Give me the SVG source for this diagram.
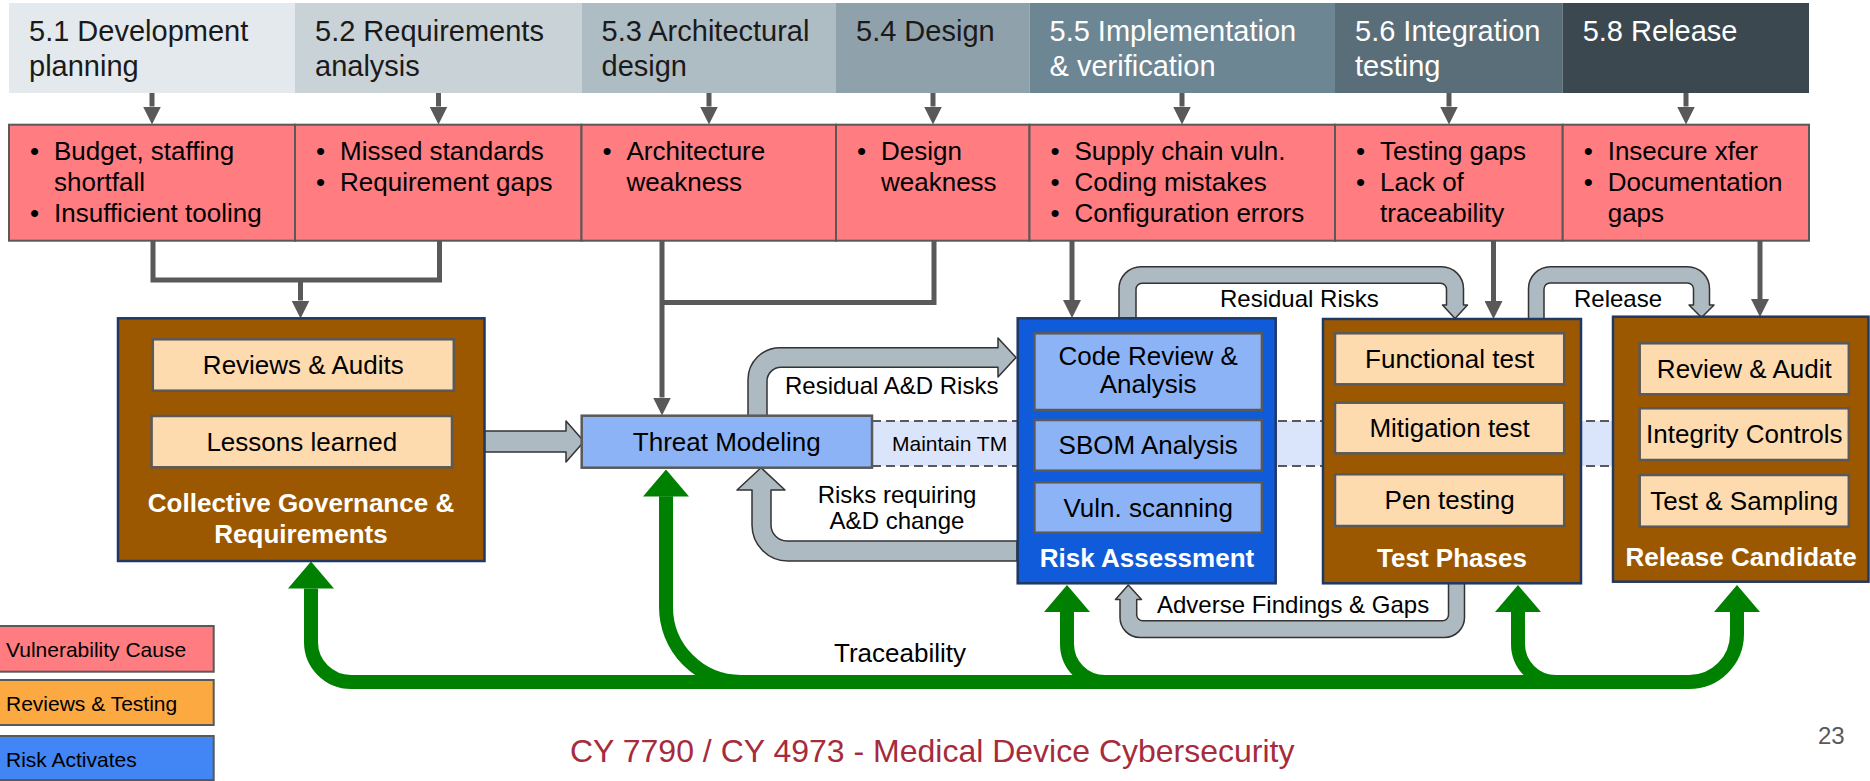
<svg xmlns="http://www.w3.org/2000/svg" width="1870" height="781" viewBox="0 0 1870 781">
  <defs>
    <style>
      text { font-family: "Liberation Sans", Arial, Helvetica, sans-serif; }
      .hd { font-size: 29px; fill: #1a1a1a; }
      .hw { font-size: 29px; fill: #ffffff; }
      .cause { fill: #ff7c80; stroke: #595959; stroke-width: 2; }
      .ct { font-size: 26px; fill: #000; }
      .conn { fill: none; stroke: #595959; stroke-width: 5; }
      .brown { fill: #9c5800; stroke: #1f3864; stroke-width: 2.5; }
      .blue { fill: #105bd9; stroke: #1f3864; stroke-width: 2.5; }
      .peach { fill: #fedbae; stroke: #595959; stroke-width: 2.5; }
      .lblue { fill: #8db3f7; stroke: #595959; stroke-width: 2.5; }
      .in { font-size: 26px; fill: #000; text-anchor: middle; }
      .title { font-size: 26px; font-weight: bold; fill: #fff; text-anchor: middle; }
      .block { fill: #adbac1; stroke: #333; stroke-width: 1.5; stroke-linejoin: round; }
      .lbl { font-size: 24px; fill: #000; }
      .green { fill: none; stroke: #008000; stroke-width: 14; }
      .legend { stroke: #595959; stroke-width: 2; }
      .lt { font-size: 21px; fill: #000; }
    </style>
    <marker id="ah" markerUnits="userSpaceOnUse" markerWidth="18" markerHeight="18" refX="0" refY="9" orient="auto" viewBox="0 0 18 18">
      <path d="M0,0 L18,9 L0,18 z" fill="#595959"/>
    </marker>
    <marker id="gh" markerUnits="userSpaceOnUse" markerWidth="27" markerHeight="46" refX="0" refY="23" orient="auto" viewBox="0 0 27 46">
      <path d="M0,0 L27,23 L0,46 z" fill="#008000"/>
    </marker>
  </defs>

  <rect width="1870" height="781" fill="#ffffff"/>

  <!-- lifecycle phase header -->
  <g id="phases">
    <rect x="9" y="3" width="286" height="90" fill="#e3e9ec"/>
    <rect x="295" y="3" width="286.5" height="90" fill="#c9d2d7"/>
    <rect x="581.5" y="3" width="254.5" height="90" fill="#aebcc3"/>
    <rect x="836" y="3" width="193.5" height="90" fill="#8fa1ab"/>
    <rect x="1029.5" y="3" width="305.5" height="90" fill="#6d8693"/>
    <rect x="1335" y="3" width="227.7" height="90" fill="#596e79"/>
    <rect x="1562.7" y="3" width="246.3" height="90" fill="#3b4850"/>
    <text class="hd" x="29" y="40.5">5.1 Development</text>
    <text class="hd" x="29" y="75.5">planning</text>
    <text class="hd" x="315" y="40.5">5.2 Requirements</text>
    <text class="hd" x="315" y="75.5">analysis</text>
    <text class="hd" x="601.5" y="40.5">5.3 Architectural</text>
    <text class="hd" x="601.5" y="75.5">design</text>
    <text class="hd" x="856" y="40.5">5.4 Design</text>
    <text class="hw" x="1049.5" y="40.5">5.5 Implementation</text>
    <text class="hw" x="1049.5" y="75.5">&amp; verification</text>
    <text class="hw" x="1355" y="40.5">5.6 Integration</text>
    <text class="hw" x="1355" y="75.5">testing</text>
    <text class="hw" x="1582.7" y="40.5">5.8 Release</text>
  </g>

  <!-- vulnerability causes per phase -->
  <g id="causes">
    <rect class="cause" x="9" y="124.7" width="286" height="116"/>
    <rect class="cause" x="295" y="124.7" width="286.5" height="116"/>
    <rect class="cause" x="581.5" y="124.7" width="254.5" height="116"/>
    <rect class="cause" x="836" y="124.7" width="193.5" height="116"/>
    <rect class="cause" x="1029.5" y="124.7" width="305.5" height="116"/>
    <rect class="cause" x="1335" y="124.7" width="227.7" height="116"/>
    <rect class="cause" x="1562.7" y="124.7" width="246.3" height="116"/>
    <g class="ct">
      <text x="30" y="159.5">•</text><text x="54" y="159.5">Budget, staffing</text>
      <text x="54" y="190.5">shortfall</text>
      <text x="30" y="221.5">•</text><text x="54" y="221.5">Insufficient tooling</text>

      <text x="316" y="159.5">•</text><text x="340" y="159.5">Missed standards</text>
      <text x="316" y="190.5">•</text><text x="340" y="190.5">Requirement gaps</text>

      <text x="602.5" y="159.5">•</text><text x="626.5" y="159.5">Architecture</text>
      <text x="626.5" y="190.5">weakness</text>

      <text x="857" y="159.5">•</text><text x="881" y="159.5">Design</text>
      <text x="881" y="190.5">weakness</text>

      <text x="1050.5" y="159.5">•</text><text x="1074.5" y="159.5">Supply chain vuln.</text>
      <text x="1050.5" y="190.5">•</text><text x="1074.5" y="190.5">Coding mistakes</text>
      <text x="1050.5" y="221.5">•</text><text x="1074.5" y="221.5">Configuration errors</text>

      <text x="1356" y="159.5">•</text><text x="1380" y="159.5">Testing gaps</text>
      <text x="1356" y="190.5">•</text><text x="1380" y="190.5">Lack of</text>
      <text x="1380" y="221.5">traceability</text>

      <text x="1583.7" y="159.5">•</text><text x="1607.7" y="159.5">Insecure xfer</text>
      <text x="1583.7" y="190.5">•</text><text x="1607.7" y="190.5">Documentation</text>
      <text x="1607.7" y="221.5">gaps</text>
    </g>
  </g>

  <!-- threat model maintenance band -->
  <g id="maintain-tm">
    <rect x="872" y="421" width="745" height="45" fill="#dae5fb"/>
    <path d="M872,421 H1617 M872,466 H1617" fill="none" stroke="#595959" stroke-width="2" stroke-dasharray="9 5"/>
    <text class="lt" x="892" y="451">Maintain TM</text>
  </g>

  <!-- connectors -->
  <g id="connectors">
    <path class="conn" d="M152,93 V106.5" marker-end="url(#ah)"/>
    <path class="conn" d="M438.5,93 V106.5" marker-end="url(#ah)"/>
    <path class="conn" d="M709,93 V106.5" marker-end="url(#ah)"/>
    <path class="conn" d="M933,93 V106.5" marker-end="url(#ah)"/>
    <path class="conn" d="M1182,93 V106.5" marker-end="url(#ah)"/>
    <path class="conn" d="M1449,93 V106.5" marker-end="url(#ah)"/>
    <path class="conn" d="M1686,93 V106.5" marker-end="url(#ah)"/>

    <path class="conn" d="M153,241 V280 H439.5 V241"/>
    <path class="conn" d="M300.5,280 V300.5" marker-end="url(#ah)"/>
    <path class="conn" d="M934,241 V302.5 H662"/>
    <path class="conn" d="M662,241 V397.5" marker-end="url(#ah)"/>
    <path class="conn" d="M1072,241 V300" marker-end="url(#ah)"/>
    <path class="conn" d="M1493.5,241 V301" marker-end="url(#ah)"/>
    <path class="conn" d="M1760,241 V299" marker-end="url(#ah)"/>

    <!-- block arrows -->
    <path class="block" d="M484.5,431 H566 V421 L584,441.5 L566,462 V452 H484.5 Z"/>
    <path class="block" d="M748,416 V379.7 A32,32 0 0 1 780,347.7 H998 V338 L1016,357.5 L998,377 V367.3 H781 A14,14 0 0 0 767,381.3 V416 Z"/>
    <path class="block" d="M1017,541 H787 A16,16 0 0 1 771,525 V490 H785 L761,467.7 L737,490 H752 V525 A36,36 0 0 0 788,561 H1017 Z"/>
    <path class="block" d="M1119,318 V288.7 A22,22 0 0 1 1141,266.7 H1441.5 A22,22 0 0 1 1463.5,288.7 V305 H1467.5 L1455,318.5 L1442.5,305 H1446.5 V289.3 A6,6 0 0 0 1440.5,283.3 H1142 A6,6 0 0 0 1136,289.3 V318 Z"/>
    <path class="block" d="M1528.5,319 V288.7 A22,22 0 0 1 1550.5,266.7 H1687.5 A22,22 0 0 1 1709.5,288.7 V305 H1714 L1701.5,317.5 L1689,305 H1693.5 V289 A6,6 0 0 0 1687.5,283 H1550 A6,6 0 0 0 1544,289 V319 Z"/>
    <path class="block" d="M1448.5,583 V614.7 A6,6 0 0 1 1442.5,620.7 H1142.7 A6,6 0 0 1 1136.7,614.7 V599.5 H1141.5 L1128.3,585 L1115.5,599.5 H1120 V617.5 A20,20 0 0 0 1140,637.5 H1444.5 A20,20 0 0 0 1464.5,617.5 V583 Z"/>

    <text class="lbl" x="785" y="394">Residual A&amp;D Risks</text>
    <text class="lbl" x="897" y="503.3" text-anchor="middle">Risks requiring</text>
    <text class="lbl" x="897" y="529.3" text-anchor="middle">A&amp;D change</text>
    <text class="lbl" x="1220" y="307">Residual Risks</text>
    <text class="lbl" x="1574" y="306.5">Release</text>
    <text class="lbl" x="1157" y="613.3">Adverse Findings &amp; Gaps</text>

    <!-- traceability -->
    <path class="green" d="M351,682 H1689"/>
    <path class="green" d="M700,682 H351 A40,40 0 0 1 311,642 V588.5" marker-end="url(#gh)"/>
    <path class="green" d="M666,496.5 V607 A75,75 0 0 0 741,682 H900" marker-start="none"/>
    <path class="green" d="M1067,612 V644 A38,38 0 0 0 1105,682 H1200"/>
    <path class="green" d="M1518,612 V644 A38,38 0 0 0 1556,682 H1650"/>
    <path class="green" d="M1500,682 H1689 A48,48 0 0 0 1737,634 V612" marker-end="url(#gh)"/>
    <path class="green" d="M666,520 V496.5" marker-end="url(#gh)"/>
    <path class="green" d="M1067,630 V612" marker-end="url(#gh)"/>
    <path class="green" d="M1518,630 V612" marker-end="url(#gh)"/>
    <text x="834" y="661.5" font-size="26" fill="#000">Traceability</text>
  </g>

  <!-- governance -->
  <g id="governance">
    <rect class="brown" x="118" y="318.3" width="366.5" height="242.7"/>
    <rect class="peach" x="152.8" y="339.3" width="301" height="51.4"/>
    <text class="in" x="303.3" y="374">Reviews &amp; Audits</text>
    <rect class="peach" x="151.6" y="416" width="300.4" height="51.3"/>
    <text class="in" x="301.8" y="450.7">Lessons learned</text>
    <text class="title" x="301" y="511.7">Collective Governance &amp;</text>
    <text class="title" x="301" y="543.3">Requirements</text>
  </g>

  <!-- threat modeling -->
  <g id="threat-modeling">
    <rect class="lblue" x="581.7" y="415.7" width="290.3" height="52"/>
    <text class="in" x="726.8" y="451">Threat Modeling</text>
  </g>

  <!-- risk assessment -->
  <g id="risk-assessment">
    <rect class="blue" x="1017.7" y="318.3" width="258" height="265"/>
    <rect class="lblue" x="1034.4" y="333.3" width="227.5" height="76.7"/>
    <text class="in" x="1148.2" y="365">Code Review &amp;</text>
    <text class="in" x="1148.2" y="392.7">Analysis</text>
    <rect class="lblue" x="1034.4" y="420" width="227.5" height="50.7"/>
    <text class="in" x="1148.2" y="454">SBOM Analysis</text>
    <rect class="lblue" x="1034.4" y="482.3" width="227.5" height="50.4"/>
    <text class="in" x="1148.2" y="516.7">Vuln. scanning</text>
    <text class="title" x="1147" y="567">Risk Assessment</text>
  </g>

  <!-- test phases -->
  <g id="test-phases">
    <rect class="brown" x="1323" y="319" width="258" height="264.3"/>
    <rect class="peach" x="1335" y="333.3" width="229.2" height="51"/>
    <text class="in" x="1449.6" y="368.3">Functional test</text>
    <rect class="peach" x="1335" y="402.7" width="229.2" height="50.6"/>
    <text class="in" x="1449.6" y="437.3">Mitigation test</text>
    <rect class="peach" x="1335" y="474.3" width="229.2" height="51.7"/>
    <text class="in" x="1449.6" y="509.3">Pen testing</text>
    <text class="title" x="1452" y="566.7">Test Phases</text>
  </g>

  <!-- release candidate -->
  <g id="release-candidate">
    <rect class="brown" x="1613" y="316.7" width="255.5" height="265"/>
    <rect class="peach" x="1639.7" y="343.3" width="209.1" height="51"/>
    <text class="in" x="1744.3" y="378.3">Review &amp; Audit</text>
    <rect class="peach" x="1639.7" y="408.3" width="209.1" height="51.7"/>
    <text class="in" x="1744.3" y="443.3">Integrity Controls</text>
    <rect class="peach" x="1639.7" y="475" width="209.1" height="51.7"/>
    <text class="in" x="1744.3" y="510">Test &amp; Sampling</text>
    <text class="title" x="1741" y="566">Release Candidate</text>
  </g>

  <!-- legend -->
  <g id="legend">
    <rect class="legend" x="-2" y="626" width="215.7" height="45.7" fill="#ff7c80"/>
    <text class="lt" x="6" y="656.7">Vulnerability Cause</text>
    <rect class="legend" x="-2" y="680" width="215.7" height="45" fill="#fda942"/>
    <text class="lt" x="6" y="710.7">Reviews &amp; Testing</text>
    <rect class="legend" x="-2" y="736" width="215.7" height="44" fill="#4285f4"/>
    <text class="lt" x="6" y="766.7">Risk Activates</text>
  </g>

  <!-- footer -->
  <g id="footer">
    <text x="570" y="762" font-size="32" fill="#a62b3c">CY 7790 / CY 4973 - Medical Device Cybersecurity</text>
    <text x="1818" y="744" font-size="24" fill="#595959">23</text>
  </g>
</svg>
